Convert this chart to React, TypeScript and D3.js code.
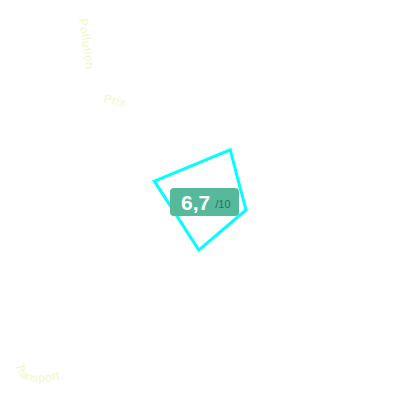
import React, { useRef, useEffect } from "react";
import * as d3 from "d3";

// radar axes (4) and their scores out of 10
const axes = ["Ambiance", "Prix", "Pollution", "Transport"];
const scores = [7.0, 4.4, 7.0, 8.4];
const maxScore = 10;
const overall = "6,7";

// labels that show up faintly around the chart
const labelTexts = ["Pollution", "Prix", "Transport"];

const App: React.FC = () => {
  const svgRef = useRef<SVGSVGElement | null>(null);

  useEffect(() => {
    if (!svgRef.current) return;
    const width = 400;
    const height = 400;
    const cx = 214.5;
    const cy = 200;
    const radius = 75;
    const rotation = (17.4 * Math.PI) / 180;

    const svg = d3.select(svgRef.current);
    svg.selectAll("*").remove();

    const r = d3.scaleLinear().domain([0, maxScore]).range([0, radius]);
    const angle = d3
      .scaleLinear()
      .domain([0, axes.length])
      .range([rotation, rotation + 2 * Math.PI]);

    const line = d3
      .lineRadial<number>()
      .angle((_, i) => angle(i))
      .radius((d) => r(d))
      .curve(d3.curveLinearClosed);

    const g = svg.append("g").attr("transform", `translate(${cx},${cy})`);

    g.append("path")
      .datum(scores)
      .attr("d", line)
      .attr("fill", "none")
      .attr("stroke", "#00ffff")
      .attr("stroke-width", 3)
      .attr("stroke-linejoin", "miter");

    // faint axis labels
    const labelColor = "#f2f7c6";
    svg
      .append("text")
      .attr("transform", "translate(79,19) rotate(82)")
      .attr("fill", labelColor)
      .attr("font-size", 12)
      .attr("letter-spacing", 0.6)
      .text(labelTexts[0]);

    svg
      .append("text")
      .attr("transform", "translate(103,102) rotate(12)")
      .attr("fill", labelColor)
      .attr("font-size", 12)
      .attr("letter-spacing", 0.5)
      .text(labelTexts[1]);

    svg
      .append("path")
      .attr("id", "lblpath")
      .attr("d", "M16,364 Q18,394 80,374")
      .attr("fill", "none");
    svg
      .append("text")
      .attr("fill", labelColor)
      .attr("font-size", 12)
      .attr("letter-spacing", 0.4)
      .append("textPath")
      .attr("href", "#lblpath")
      .text(labelTexts[2]);

    // score badge
    const badge = svg.append("g").attr("transform", "translate(170,188)");
    badge
      .append("rect")
      .attr("width", 69)
      .attr("height", 28)
      .attr("rx", 4)
      .attr("fill", "#56b99b");
    const t = badge
      .append("text")
      .attr("x", 11)
      .attr("y", 22)
      .attr("font-family", "'Liberation Sans', Arial, sans-serif");
    t.append("tspan")
      .attr("fill", "#ffffff")
      .attr("font-size", 21)
      .attr("font-weight", "bold")
      .text(overall);
    t.append("tspan")
      .attr("fill", "#2f6f5c")
      .attr("font-size", 11)
      .attr("dx", 5)
      .attr("dy", -2)
      .text(`/${maxScore}`);

    svg
      .attr("width", width)
      .attr("height", height)
      .attr("viewBox", `0 0 ${width} ${height}`)
      .attr("style", "position: absolute; left: 0; top: 0; font-family: 'Liberation Sans', Arial, sans-serif;");
  }, []);

  return <svg ref={svgRef} />;
};

export default App;
